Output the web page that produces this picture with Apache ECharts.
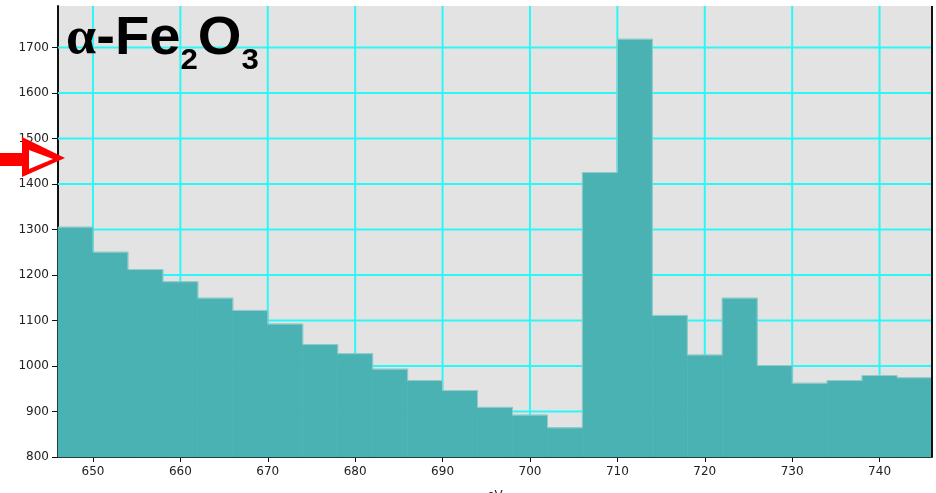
<!DOCTYPE html>
<html>
<head>
<meta charset="utf-8">
<script src="https://cdn.jsdelivr.net/npm/echarts@6/dist/echarts.min.js"></script>
<style>
  html, body { margin: 0; padding: 0; background: #ffffff; }
  #chart { width: 936px; height: 493px; }
</style>
</head>
<body>
<div id="chart"></div>
<script>
// Energy-loss spectrum of α-Fe2O3, 4 eV bins
const binStarts = [646, 650, 654, 658, 662, 666, 670, 674, 678, 682, 686, 690, 694,
                   698, 702, 706, 710, 714, 718, 722, 726, 730, 734, 738, 742];
const binWidth = 4;
const counts = [1305, 1250, 1212, 1185, 1149, 1122, 1092, 1047, 1027, 993, 968, 946, 909,
                892, 864, 1425, 1718, 1111, 1024, 1149, 1001, 962, 968, 979, 974];
const xTicks = [650, 660, 670, 680, 690, 700, 710, 720, 730, 740];
const yTicks = [800, 900, 1000, 1100, 1200, 1300, 1400, 1500, 1600, 1700];

const X_MIN = 646, X_MAX = 746, Y_MIN = 800, Y_MAX = 1791;
const GRID_COLOR = '#2cf7f7';

const chart = echarts.init(document.getElementById('chart'));

const bins = binStarts.map((s, i) => [s, s + binWidth, counts[i]]);
// outline of the histogram as a stepped path along the bin edges
const outline = binStarts.map((s, i) => [s, counts[i]]);
outline.push([binStarts[binStarts.length - 1] + binWidth, counts[counts.length - 1]]);

// grid lines: [orientation, value]  (0 = vertical at x, 1 = horizontal at y)
const gridLines = xTicks.map(v => [0, v]).concat(yTicks.filter(v => v > Y_MIN).map(v => [1, v]));

chart.setOption({
  animation: false,
  backgroundColor: '#ffffff',
  grid: {
    left: 58, right: 4, top: 6, bottom: 36,
    outerBoundsMode: 'none',
    containLabel: false,
    show: true,
    backgroundColor: '#e3e3e3',
    borderWidth: 0
  },
  xAxis: {
    type: 'value',
    min: X_MIN, max: X_MAX,
    name: 'eV',
    nameLocation: 'middle',
    nameGap: 33,
    nameTextStyle: { color: '#222', fontSize: 12, fontFamily: 'DejaVu Sans' },
    axisLine: { show: true, onZero: false, lineStyle: { color: '#111', width: 2 } },
    axisTick: { show: true, length: 5, customValues: xTicks, lineStyle: { color: '#111' } },
    axisLabel: {
      color: '#222', fontSize: 12, fontFamily: 'DejaVu Sans', margin: 9,
      customValues: xTicks,
      formatter: v => String(v)
    },
    splitLine: { show: false }
  },
  yAxis: {
    type: 'value',
    min: Y_MIN, max: Y_MAX,
    axisLine: { show: true, lineStyle: { color: '#111', width: 2 } },
    axisTick: { show: true, length: 6, customValues: yTicks, lineStyle: { color: '#111' } },
    axisLabel: {
      color: '#222', fontSize: 12, fontFamily: 'DejaVu Sans', margin: 9,
      customValues: yTicks,
      formatter: v => String(v)
    },
    splitLine: { show: false }
  },
  series: [
    {
      // cyan grid behind the histogram
      type: 'custom',
      data: gridLines,
      silent: true,
      z: 1,
      encode: { x: -1, y: -1 },
      renderItem: function (params, api) {
        const horizontal = api.value(0) === 1;
        const v = api.value(1);
        const a = horizontal ? api.coord([X_MIN, v]) : api.coord([v, Y_MIN]);
        const b = horizontal ? api.coord([X_MAX, v]) : api.coord([v, Y_MAX]);
        return {
          type: 'line',
          shape: { x1: a[0], y1: a[1], x2: b[0], y2: b[1] },
          style: { stroke: GRID_COLOR, lineWidth: 2 }
        };
      }
    },
    {
      type: 'custom',
      data: bins,
      encode: { x: [0, 1], y: 2 },
      renderItem: function (params, api) {
        const p0 = api.coord([api.value(0), api.value(2)]);
        const p1 = api.coord([api.value(1), Y_MIN]);
        return {
          type: 'rect',
          shape: { x: p0[0], y: p0[1], width: p1[0] - p0[0], height: p1[1] - p0[1] },
          style: { fill: '#4ab2b3', stroke: '#4ab2b3', lineWidth: 0.6 }
        };
      },
      z: 3
    },
    {
      type: 'line',
      data: outline,
      step: 'end',
      symbol: 'none',
      silent: true,
      lineStyle: { color: '#93cccc', width: 1 },
      z: 4
    },
    {
      // right frame edge of the plot
      type: 'line',
      data: [[X_MAX, Y_MIN], [X_MAX, Y_MAX]],
      symbol: 'none',
      lineStyle: { color: '#111', width: 2 },
      silent: true,
      z: 5
    }
  ],
  graphic: [
    {
      type: 'text',
      x: 66, y: 12,
      scaleX: 1.04,
      style: {
        text: '{a|α}{b|-Fe}{s|2}{b|O}{s|3}',
        rich: {
          a: { fontSize: 52, fontWeight: 'bold', fontFamily: 'Liberation Serif', fill: '#000', verticalAlign: 'bottom' },
          b: { fontSize: 54, fontWeight: 'bold', fontFamily: 'Liberation Sans', fill: '#000', verticalAlign: 'bottom' },
          s: { fontSize: 30, fontWeight: 'bold', fontFamily: 'Liberation Sans', fill: '#000', verticalAlign: 'bottom', padding: [0, 0, -10, 0] }
        }
      },
      z: 10
    },
    {
      // red pointer arrow at the left edge
      type: 'polygon',
      shape: {
        points: [[0, 153], [22, 153], [22, 137], [65, 158], [22, 177], [22, 166], [0, 166]]
      },
      style: { fill: '#ff0000' },
      z: 10
    },
    {
      type: 'polygon',
      shape: { points: [[29, 150], [53, 159], [29, 169]] },
      style: { fill: '#ffffff' },
      z: 11
    }
  ]
});
</script>
</body>
</html>
